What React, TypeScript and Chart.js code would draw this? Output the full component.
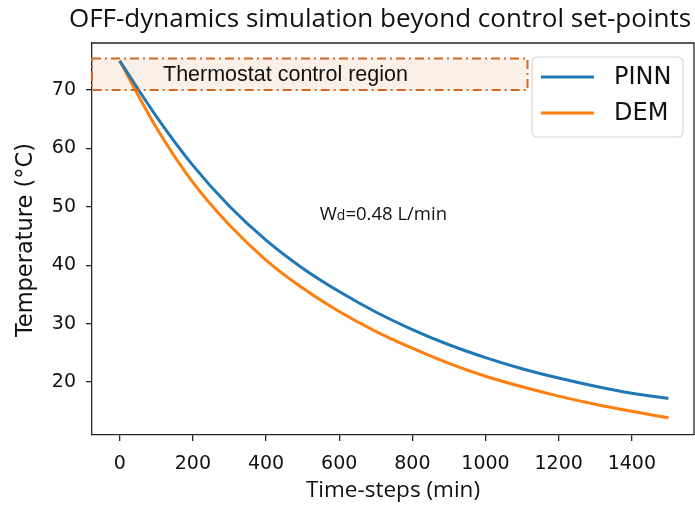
import React, { useEffect, useRef } from "react";
import { Chart, registerables } from "chart.js";

Chart.register(...registerables);

// Simulated cooling after the heater switches off (minutes, °C)
const timeSteps = [0, 100, 200, 300, 400, 500, 600, 700, 800, 900, 1000, 1100, 1200, 1300, 1400, 1500];
const pinnTemps = [75, 65.5, 57.1, 50.1, 44.3, 39.5, 35.5, 32.0, 29.0, 26.4, 24.2, 22.3, 20.7, 19.3, 18.1, 17.2];
const demTemps = [75, 63.6, 54.2, 46.9, 40.9, 36.1, 32.1, 28.7, 25.8, 23.2, 21.0, 19.2, 17.6, 16.2, 15.0, 13.9];

const xTicks = [0, 200, 400, 600, 800, 1000, 1200, 1400];
const yTicks = [20, 30, 40, 50, 60, 70];

// Thermostat band (°C) and the time where the shaded band stops
const bandLow = 70;
const bandHigh = 75.4;
const bandEnd = 1115;

// Flow-rate note placement in data units
const noteAt = { x: 547, y: 47.7 };

const PINN_COLOR = "#1f77b4";
const DEM_COLOR = "#ff7f0e";
const SPINE = "#262626";

const decorations = {
  id: "decorations",
  afterDatasetsDraw(chart: any) {
    const { ctx, scales } = chart;
    const x = scales.x;
    const y = scales.y;
    const left = x.left;
    const right = x.getPixelForValue(bandEnd);
    const top = y.getPixelForValue(bandHigh);
    const bottom = y.getPixelForValue(bandLow);
    ctx.save();
    ctx.fillStyle = "rgba(210,105,30,0.1)";
    ctx.fillRect(left, top, right - left, bottom - top);
    ctx.strokeStyle = "#d2691e";
    ctx.lineWidth = 2;
    ctx.setLineDash([9, 4, 2, 4]);
    ctx.strokeRect(left, top, right - left, bottom - top);
    ctx.setLineDash([]);
    ctx.fillStyle = "#111";
    ctx.font = '21.5px "Liberation Sans"';
    ctx.textBaseline = "middle";
    ctx.textAlign = "left";
    ctx.fillText("Thermostat control region", left + 71, (top + bottom) / 2 + 1);
    ctx.restore();
  },
  afterDraw(chart: any) {
    const { ctx, chartArea, scales } = chart;
    const { left, right, top, bottom } = chartArea;
    ctx.save();
    // top and right frame lines
    ctx.strokeStyle = SPINE;
    ctx.lineWidth = 1.3;
    ctx.beginPath();
    ctx.moveTo(left, top);
    ctx.lineTo(right, top);
    ctx.lineTo(right, bottom);
    ctx.stroke();

    // title
    ctx.fillStyle = "#111";
    ctx.font = '26px "Open Sans"';
    ctx.textAlign = "center";
    ctx.textBaseline = "middle";
    ctx.fillText("OFF-dynamics simulation beyond control set-points", 380, 20);

    // axis titles
    ctx.font = '22.5px "Open Sans"';
    ctx.fillText("Time-steps (min)", (left + right) / 2, 491);
    ctx.save();
    ctx.translate(26, 240);
    ctx.rotate(-Math.PI / 2);
    ctx.font = '22.5px "DejaVu Sans"';
    ctx.fillText("Temperature (°C)", 0, 0);
    ctx.restore();

    // flow-rate note with subscript
    const nx = scales.x.getPixelForValue(noteAt.x);
    const ny = scales.y.getPixelForValue(noteAt.y);
    ctx.textAlign = "left";
    ctx.textBaseline = "alphabetic";
    ctx.font = '18.5px "Open Sans"';
    ctx.fillText("W", nx, ny);
    let cx = nx + ctx.measureText("W").width;
    ctx.font = '14px "Open Sans"';
    ctx.fillText("d", cx, ny);
    cx += ctx.measureText("d").width;
    ctx.font = '18.5px "Open Sans"';
    ctx.fillText("=0.48 L/min", cx, ny);

    // legend
    const lx = 532, ly = 57, lw = 151, lh = 80, r = 5;
    ctx.beginPath();
    ctx.moveTo(lx + r, ly);
    ctx.arcTo(lx + lw, ly, lx + lw, ly + lh, r);
    ctx.arcTo(lx + lw, ly + lh, lx, ly + lh, r);
    ctx.arcTo(lx, ly + lh, lx, ly, r);
    ctx.arcTo(lx, ly, lx + lw, ly, r);
    ctx.closePath();
    ctx.fillStyle = "rgba(255,255,255,0.85)";
    ctx.fill();
    ctx.strokeStyle = "#d6d6d6";
    ctx.lineWidth = 1.2;
    ctx.stroke();
    const entries = [
      { label: "PINN", color: PINN_COLOR, yy: 77 },
      { label: "DEM", color: DEM_COLOR, yy: 113 },
    ];
    ctx.font = '24px "DejaVu Sans"';
    ctx.textBaseline = "middle";
    for (const e of entries) {
      ctx.strokeStyle = e.color;
      ctx.lineWidth = 3;
      ctx.beginPath();
      ctx.moveTo(541, e.yy);
      ctx.lineTo(594, e.yy);
      ctx.stroke();
      ctx.fillStyle = "#111";
      ctx.fillText(e.label, 614, e.yy + 1);
    }
    ctx.restore();
  },
};

export default function App() {
  const canvasRef = useRef<HTMLCanvasElement | null>(null);

  useEffect(() => {
    const canvas = canvasRef.current;
    if (!canvas) return;
    const tickFont = { family: "DejaVu Sans", size: 19 };
    const plain = (v: any) => String(v);
    const chart = new Chart(canvas, {
      type: "line",
      data: {
        datasets: [
          {
            label: "PINN",
            data: timeSteps.map((t, i) => ({ x: t, y: pinnTemps[i] })),
            borderColor: PINN_COLOR,
            borderWidth: 3,
            pointRadius: 0,
            cubicInterpolationMode: "monotone",
            fill: false,
          },
          {
            label: "DEM",
            data: timeSteps.map((t, i) => ({ x: t, y: demTemps[i] })),
            borderColor: DEM_COLOR,
            borderWidth: 3,
            pointRadius: 0,
            cubicInterpolationMode: "monotone",
            fill: false,
          },
        ],
      },
      options: {
        responsive: false,
        animation: false,
        devicePixelRatio: 1,
        layout: { padding: { top: 43, right: 1, left: 0, bottom: 0 } },
        plugins: {
          legend: { display: false },
          title: { display: false },
          tooltip: { enabled: false },
        },
        scales: {
          x: {
            type: "linear",
            min: -75.7,
            max: 1570,
            afterFit: (s: any) => {
              s.height = 73;
            },
            afterBuildTicks: (s: any) => {
              s.ticks = xTicks.map((v) => ({ value: v }));
            },
            ticks: { font: tickFont, color: "#111", padding: 12, maxRotation: 0, callback: plain },
            grid: {
              display: true,
              drawOnChartArea: false,
              drawTicks: true,
              tickLength: 6,
              color: SPINE,
              lineWidth: 1.3,
            },
            border: { display: true, color: SPINE, width: 1.3 },
          },
          y: {
            type: "linear",
            min: 10.95,
            max: 78.05,
            afterFit: (s: any) => {
              s.width = 92;
            },
            afterBuildTicks: (s: any) => {
              s.ticks = yTicks.map((v) => ({ value: v }));
            },
            ticks: { font: tickFont, color: "#111", padding: 10, callback: plain },
            grid: {
              display: true,
              drawOnChartArea: false,
              drawTicks: true,
              tickLength: 6,
              color: SPINE,
              lineWidth: 1.3,
            },
            border: { display: true, color: SPINE, width: 1.3 },
          },
        },
      },
      plugins: [decorations],
    });
    return () => chart.destroy();
  }, []);

  return (
    <div style={{ position: "absolute", left: 0, top: 0, width: 695, height: 508, background: "#fff" }}>
      <canvas ref={canvasRef} width={695} height={508} style={{ display: "block", width: 695, height: 508 }} />
    </div>
  );
}
